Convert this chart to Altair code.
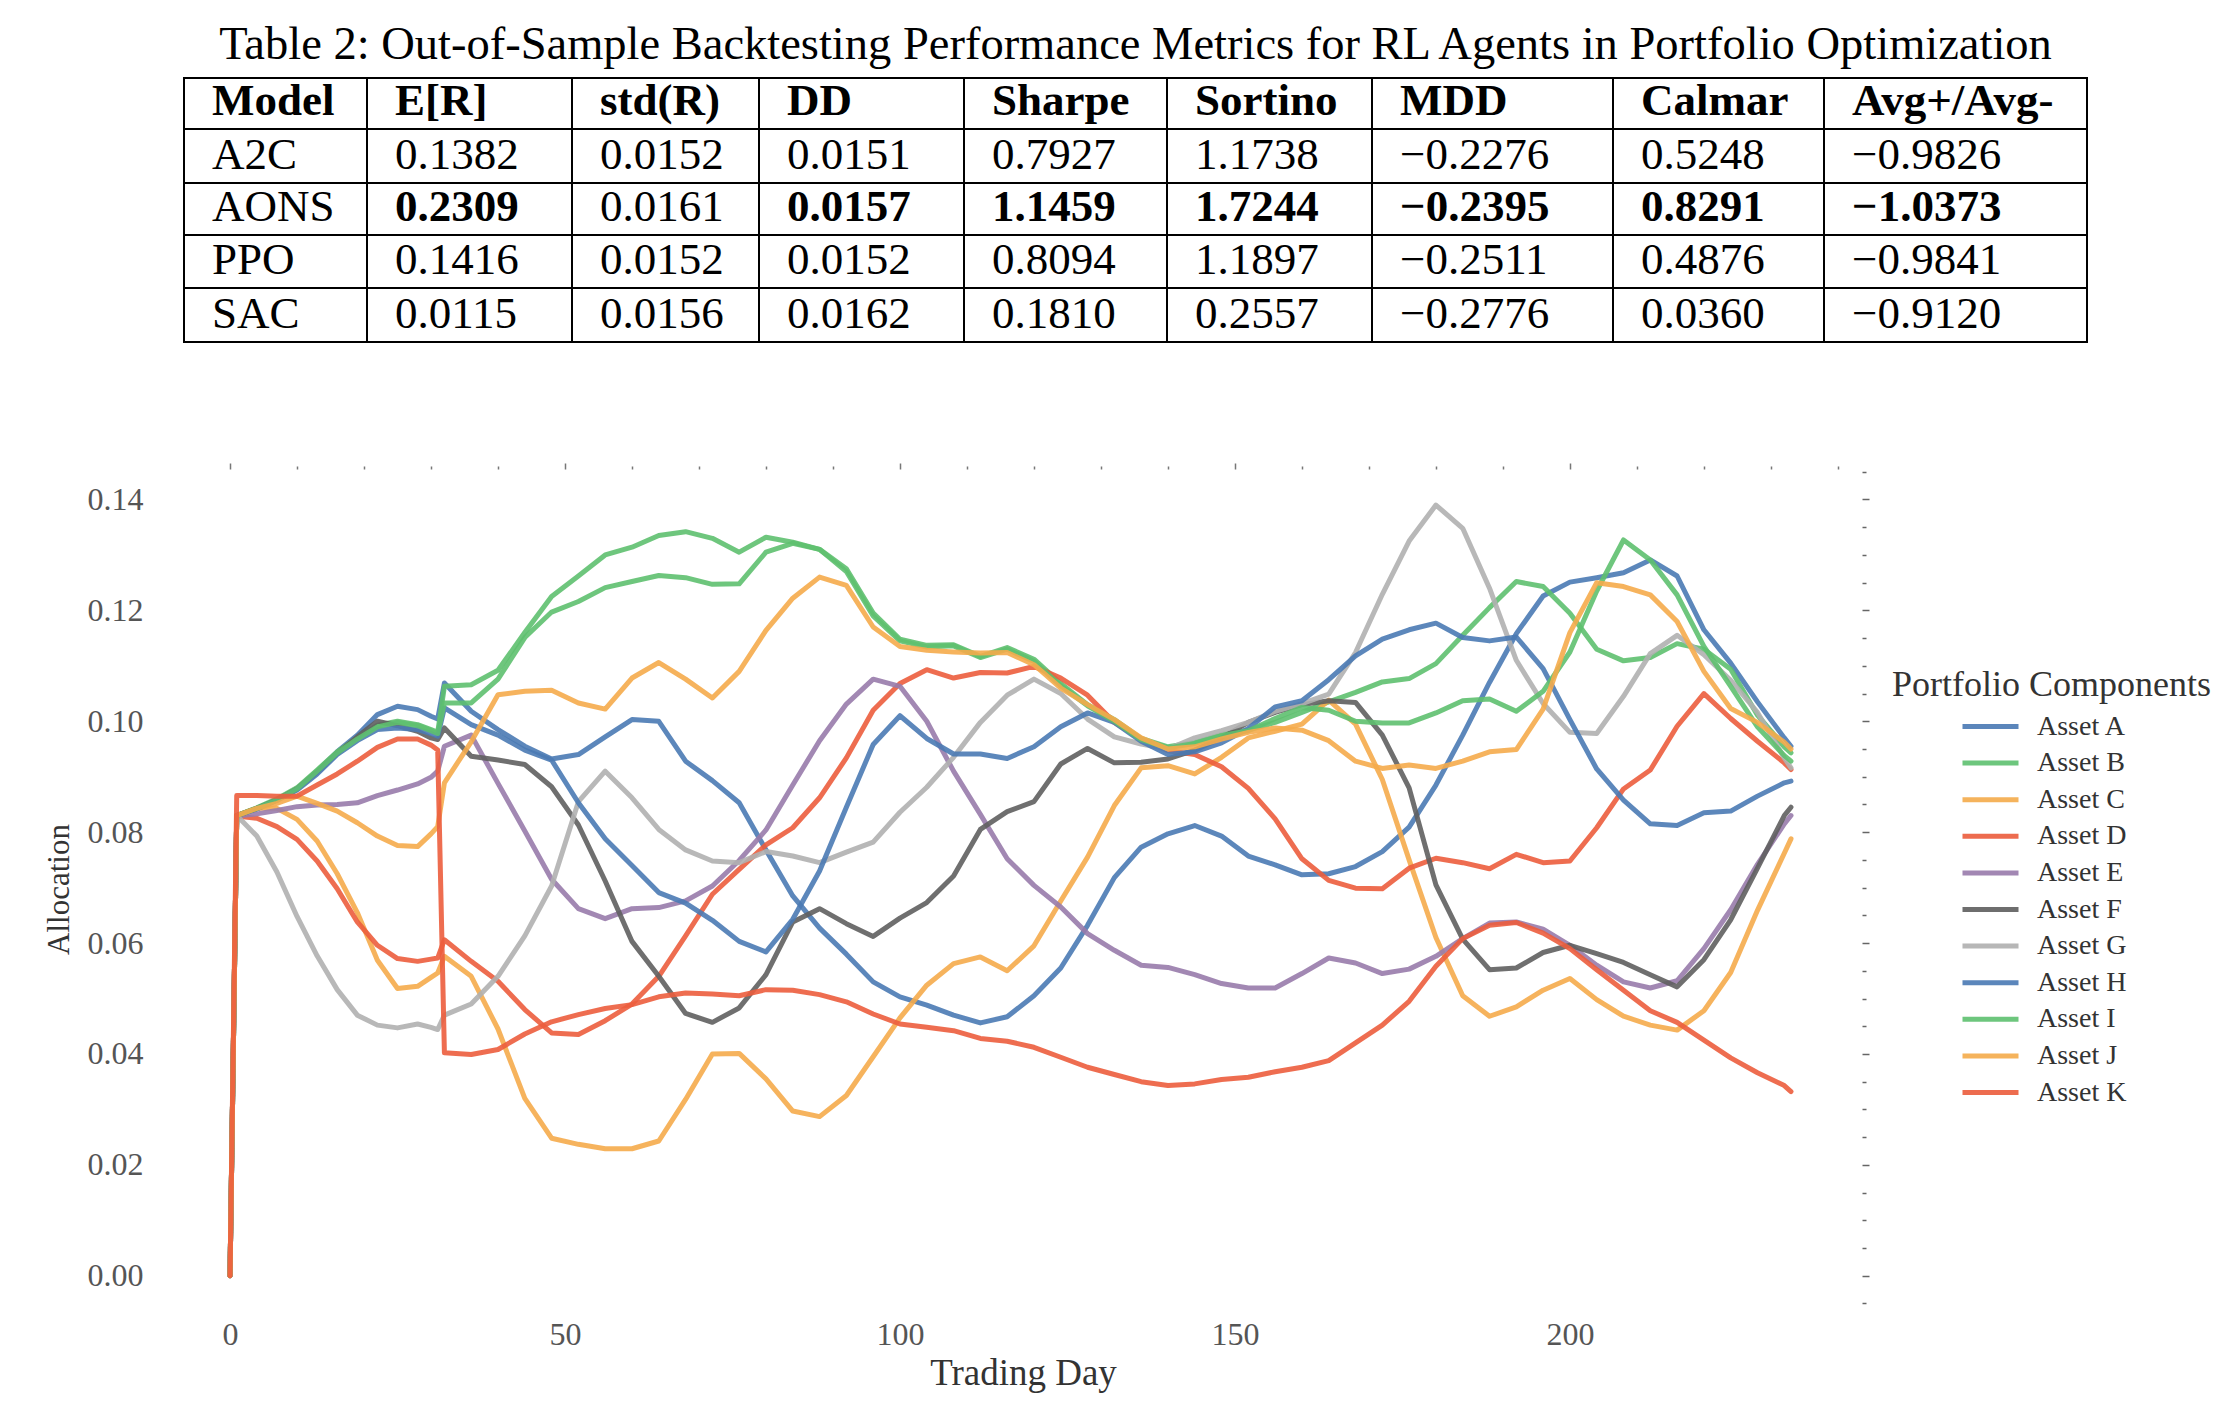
import altair as alt
import pandas as pd

FONT = "Liberation Serif"

# ---------------- table data ----------------
table_title = "Table 2: Out-of-Sample Backtesting Performance Metrics for RL Agents in Portfolio Optimization"
header = ["Model", "E[R]", "std(R)", "DD", "Sharpe", "Sortino", "MDD", "Calmar", "Avg+/Avg-"]
models = ["A2C", "AONS", "PPO", "SAC"]
exp_ret = [0.1382, 0.2309, 0.1416, 0.0115]
std_ret = [0.0152, 0.0161, 0.0152, 0.0156]
dd = [0.0151, 0.0157, 0.0152, 0.0162]
sharpe = [0.7927, 1.1459, 0.8094, 0.1810]
sortino = [1.1738, 1.7244, 1.1897, 0.2557]
mdd = [-0.2276, -0.2395, -0.2511, -0.2776]
calmar = [0.5248, 0.8291, 0.4876, 0.0360]
avg_ratio = [-0.9826, -1.0373, -0.9841, -0.9120]
bold_model = "AONS"
bold_columns = ["E[R]", "DD", "Sharpe", "Sortino", "MDD", "Calmar", "Avg+/Avg-"]

# table layout (pixels)
col_widths = [183, 205, 187, 205, 203, 205, 241, 211, 263]
row_heights = [51, 54, 52, 53, 54]
text_pad_x = 28
text_pad_bottom = 14

# ---------------- line chart data ----------------
days = [0, 1, 4, 7, 10, 13, 16, 19, 22, 25, 28, 30, 31,
        32, 36, 40, 44, 48, 52, 56, 60, 64,
        68, 72, 76, 80, 84, 88, 92, 96, 100,
        104, 108, 112, 116, 120, 124, 128, 132, 136,
        140, 144, 148, 152, 156, 160, 164, 168, 172,
        176, 180, 184, 188, 192, 196, 200, 204, 208,
        212, 216, 220, 224, 228, 232,
        233]

asset_a = [0, .083, .0842, .0858, .0878, .091, .0945, .0975, .1012, .1027, .1021, .1009, .1004,
           .1069, .1018, .0985, .0955, .0932, .094, .0972, .1003, .1,
           .0928, .0893, .0853, .0768, .0685, .0627, .058, .053, .0503,
           .0488, .047, .0456, .0467, .0505, .0555, .0632, .0718, .0773,
           .0797, .0812, .0793, .0757, .0741, .0723, .0725, .0738, .0765,
           .0809, .0885, .0975, .107, .1158, .1226, .1251, .1259, .1268,
           .1291, .1262, .1165, .1105, .1035, .097,
           .0955]
asset_b = [0, .083, .0844, .086, .088, .0912, .0945, .097, .0993, .1, .0994, .0985, .098,
           .1063, .1066, .1092, .116, .1225, .1262, .13, .1314, .1335,
           .1342, .133, .1305, .1332, .1323, .131, .1275, .1195, .1148,
           .1137, .1138, .1117, .1133, .1112, .1068, .103, .1003, .0969,
           .0954, .0962, .0976, .0984, .0998, .1016, .1035, .1052, .1071,
           .1077, .1104, .1155, .1205, .1252, .1243, .1195, .113, .1109,
           .1115, .114, .113, .1094, .1011, .0954,
           .0943]
asset_c = [0, .083, .0843, .0843, .0823, .0784, .0725, .0655, .0569, .0518, .0522, .0538, .0546,
           .0576, .054, .0445, .032, .0248, .0237, .0229, .0229, .0243,
           .0318, .04, .0401, .0355, .0297, .0287, .0325, .0395, .0465,
           .0524, .0563, .0575, .055, .0595, .0676, .0755, .0848, .0916,
           .092, .0905, .0935, .097, .0982, .0995, .1038, .0995, .0895,
           .075, .061, .0505, .0468, .0485, .0515, .0536, .0498, .0468,
           .0452, .0443, .0478, .0547, .0659, .0762,
           .0788]
asset_d = [0, .0829, .0825, .081, .0787, .0748, .0698, .0638, .0596, .0572, .0567, .0571, .0573,
           .0606, .0567, .0531, .048, .0438, .0435, .046, .049, .054,
           .0613, .0688, .0733, .0777, .0808, .0862, .0934, .102, .1068,
           .1093, .1078, .1088, .1087, .1099, .1078, .1047, .0998, .0968,
           .0947, .094, .0918, .0879, .0824, .0752, .0713, .0699, .0698,
           .0735, .0753, .0745, .0734, .076, .0745, .0748, .0808, .0878,
           .0912, .0991, .105, .1005, .0964, .0925,
           .0913]
asset_e = [0, .0829, .0833, .0839, .0846, .0849, .085, .0853, .0866, .0876, .0887, .0899, .091,
           .0955, .0975, .0888, .0802, .0715, .0662, .0644, .0662, .0664,
           .0676, .0703, .0749, .0804, .0885, .0965, .1031, .1076, .1063,
           .1, .091, .0832, .0752, .0704, .0665, .0617, .0587, .056,
           .0556, .0543, .0527, .0519, .0519, .0545, .0573, .0564, .0545,
           .0553, .0576, .0608, .0636, .0638, .0625, .0596, .056, .053,
           .0519, .0532, .059, .066, .0742, .0815,
           .083]
asset_f = [0, .083, .0843, .0858, .0878, .0908, .0942, .0972, .1, .0992, .0982, .097, .0967,
           .0988, .0937, .093, .0922, .0882, .0813, .0712, .0603, .054,
           .0473, .0457, .0483, .0543, .0638, .0662, .0635, .0612, .0645,
           .0673, .0721, .0805, .0837, .0855, .0923, .0951, .0925, .0926,
           .0932, .0948, .097, .0998, .1016, .103, .1037, .1034, .0975,
           .088, .0705, .0607, .0552, .0555, .0583, .0596, .0581, .0565,
           .0543, .0521, .057, .0642, .0735, .083,
           .0845]
asset_g = [0, .083, .0793, .0728, .0648, .0577, .0516, .047, .0452, .0447, .0454, .0448, .0444,
           .047, .049, .054, .0613, .0703, .0855, .091, .0862, .0805,
           .0768, .0748, .0745, .0765, .0757, .0745, .0764, .0782, .0836,
           .0881, .0935, .0998, .1047, .1076, .105, .1004, .0972, .0959,
           .095, .097, .0983, .0998, .1018, .1032, .1049, .1124, .1229,
           .1325, .139, .1348, .124, .111, .1032, .098, .0978, .1045,
           .1122, .1155, .112, .1074, .1016, .0934,
           .0916]
asset_h = [0, .083, .0842, .0857, .0876, .0905, .094, .0965, .0985, .0988, .0985, .0978, .0973,
           .1024, .0994, .0975, .0948, .093, .0853, .0788, .074, .0691,
           .0672, .0641, .0603, .0584, .0643, .073, .0845, .0958, .101,
           .0969, .0941, .0941, .0933, .0954, .099, .1015, .0998, .0964,
           .094, .0945, .0961, .0987, .1026, .1037, .1075, .1118, .1148,
           .1165, .1177, .1151, .1145, .1152, .1095, .1003, .0914, .0858,
           .0815, .0812, .0835, .0838, .0865, .0889,
           .0892]
asset_i = [0, .083, .0843, .0858, .0878, .091, .0943, .0968, .099, .0998, .0992, .0983, .0978,
           .1033, .1033, .1076, .1151, .1197, .1216, .1241, .1252, .1263,
           .1259, .1247, .1248, .1305, .1321, .131, .127, .119, .1145,
           .1134, .1136, .1115, .113, .1108, .1064, .1028, .1, .0967,
           .0952, .096, .0974, .0983, .1005, .1025, .102, .1, .0997,
           .0997, .1015, .1037, .104, .1018, .1054, .1125, .1235, .1327,
           .1291, .1228, .1135, .1063, .099, .0938,
           .0928]
asset_j = [0, .083, .0843, .0852, .0865, .0852, .0838, .0817, .0793, .0776, .0774, .0797, .081,
           .0889, .0963, .1048, .1054, .1056, .1033, .1022, .1078, .1106,
           .1076, .1042, .109, .1164, .1222, .126, .1245, .117, .1135,
           .1128, .1125, .1123, .1124, .1102, .106, .103, .1003, .097,
           .095, .0954, .0968, .098, .0988, .0984, .0965, .0928, .0915,
           .0921, .0915, .0928, .0945, .0949, .1022, .116, .125, .1243,
           .1228, .118, .109, .1023, .0998, .0962,
           .095]
asset_k = [0, .0866, .0866, .0865, .0865, .0885, .0905, .0928, .0953, .0968, .0968, .0957, .0948,
           .0402, .0399, .0408, .0436, .0458, .0471, .0482, .0489, .0503,
           .051, .0508, .0505, .0516, .0515, .0507, .0494, .0472, .0454,
           .0448, .0442, .0428, .0423, .0412, .0394, .0376, .0363, .035,
           .0343, .0346, .0354, .0358, .0368, .0376, .0388, .042, .0452,
           .0495, .0558, .0608, .0632, .0637, .0618, .059, .0552, .0515,
           .0478, .0457, .0425, .0393, .0366, .0343,
           .0332]

asset_names = ["Asset A", "Asset B", "Asset C", "Asset D", "Asset E", "Asset F",
               "Asset G", "Asset H", "Asset I", "Asset J", "Asset K"]
asset_series = [asset_a, asset_b, asset_c, asset_d, asset_e, asset_f,
                asset_g, asset_h, asset_i, asset_j, asset_k]
asset_colors = ["#4a7ab4", "#5ec06f", "#f5ab4b", "#ec5d3d", "#987bab", "#5f5f5f",
                "#b0b0b0", "#4a7ab4", "#5ec06f", "#f5ab4b", "#ec5d3d"]

x_label_values = [0, 50, 100, 150, 200]
y_label_values = [0.0, 0.02, 0.04, 0.06, 0.08, 0.10, 0.12, 0.14]
top_tick_days = [-10, 0, 10, 20, 30, 40, 50, 60, 70, 80, 90, 100, 110, 120, 130, 140,
                 150, 160, 170, 180, 190, 200, 210, 220, 230, 240]
right_tick_values = [-0.005, 0.0, 0.005, 0.01, 0.015, 0.02, 0.025, 0.03, 0.035, 0.04,
                     0.045, 0.05, 0.055, 0.06, 0.065, 0.07, 0.075, 0.08, 0.085, 0.09,
                     0.095, 0.10, 0.105, 0.11, 0.115, 0.12, 0.125, 0.13, 0.135, 0.14, 0.145]

# ---------------- build table frames ----------------
col_left = [sum(col_widths[:i]) for i in range(len(col_widths))]
row_top = [sum(row_heights[:i]) for i in range(len(row_heights))]
table_w = sum(col_widths)
table_h = sum(row_heights)

columns = [exp_ret, std_ret, dd, sharpe, sortino, mdd, calmar, avg_ratio]

cell_rows, text_rows = [], []
for r in range(len(row_heights)):
    for c in range(len(col_widths)):
        cell_rows.append({"x0": col_left[c], "x1": col_left[c] + col_widths[c],
                          "y0": row_top[r], "y1": row_top[r] + row_heights[r]})
        if r == 0:
            label, bold = header[c], True
        elif c == 0:
            label, bold = models[r - 1], False
        else:
            v = columns[c - 1][r - 1]
            label = f"{v:.4f}".replace("-", "\u2212")
            bold = (models[r - 1] == bold_model) and (header[c] in bold_columns)
        text_rows.append({"xt": col_left[c] + text_pad_x,
                          "yt": row_top[r] + row_heights[r] - text_pad_bottom,
                          "label": label, "bold": bold})
cells_df = pd.DataFrame(cell_rows)
texts_df = pd.DataFrame(text_rows)

tx_scale = alt.Scale(domain=[0, table_w], nice=False, zero=False)
ty_scale = alt.Scale(domain=[0, table_h], nice=False, zero=False, reverse=True)

rects = alt.Chart(cells_df).mark_rect(fillOpacity=0, stroke="black", strokeWidth=2).encode(
    x=alt.X("x0:Q", scale=tx_scale, axis=None),
    x2="x1:Q",
    y=alt.Y("y0:Q", scale=ty_scale, axis=None),
    y2="y1:Q",
)
txt_normal = alt.Chart(texts_df).transform_filter("!datum.bold").mark_text(
    font=FONT, fontSize=45, align="left", baseline="alphabetic", color="black"
).encode(
    x=alt.X("xt:Q", scale=tx_scale, axis=None),
    y=alt.Y("yt:Q", scale=ty_scale, axis=None),
    text="label:N",
)
txt_bold = alt.Chart(texts_df).transform_filter("datum.bold").mark_text(
    font=FONT, fontSize=45, fontWeight="bold", align="left", baseline="alphabetic", color="black"
).encode(
    x=alt.X("xt:Q", scale=tx_scale, axis=None),
    y=alt.Y("yt:Q", scale=ty_scale, axis=None),
    text="label:N",
)
table_chart = alt.layer(rects, txt_normal, txt_bold).properties(
    width=table_w, height=table_h,
    title=alt.Title(table_title, font=FONT, fontSize=46.5, fontWeight="normal", color="black",
                    anchor="middle", baseline="alphabetic", offset=10, dy=38),
)

# ---------------- line chart ----------------
rows = []
for name, vals in zip(asset_names, asset_series):
    assert len(vals) == len(days), name
    for d, v in zip(days, vals):
        rows.append({"asset": name, "day": d, "alloc": v})
df = pd.DataFrame(rows)

plot_w = 1678
plot_h = 840
x_scale = alt.Scale(domain=[-6.87, 243.6], nice=False, zero=False)
y_scale = alt.Scale(domain=[-0.006, 0.1455], nice=False, zero=False)

lines = alt.Chart(df).mark_line(strokeWidth=5, opacity=0.9, strokeJoin="round", strokeCap="round").encode(
    x=alt.X("day:Q", scale=x_scale,
            axis=alt.Axis(orient="bottom", values=x_label_values, ticks=False, domain=False, grid=False,
                          labelFont=FONT, labelFontSize=32, labelColor="#555555", labelPadding=10,
                          title="Trading Day", titleFont=FONT, titleFontSize=37, titleFontWeight="normal",
                          titleColor="#333333", titlePadding=5)),
    y=alt.Y("alloc:Q", scale=y_scale,
            axis=alt.Axis(orient="left", values=y_label_values, format=".2f", ticks=False, domain=False,
                          grid=False, labelFont=FONT, labelFontSize=32, labelColor="#555555",
                          labelPadding=41, title="Allocation", titleFont=FONT, titleFontSize=31,
                          titleFontWeight="normal", titleColor="#333333", titlePadding=12)),
    color=alt.Color("asset:N", scale=alt.Scale(domain=asset_names, range=asset_colors),
                    legend=alt.Legend(title="Portfolio Components", orient="none", legendX=1708, legendY=590,
                                      padding=0, titleFont=FONT, titleFontSize=36, titleFontWeight="normal",
                                      titleColor="#333333", titlePadding=6, titleLimit=600,
                                      labelFont=FONT, labelFontSize=28, labelLimit=400,
                                      labelColor="#333333", symbolType="M-2,0L2,0", symbolSize=784,
                                      symbolStrokeWidth=5, symbolOffset=82, labelOffset=30, rowPadding=5.6)),
)

frame = alt.Chart(df).mark_line(opacity=0).encode(
    x=alt.X("day:Q", scale=x_scale,
            axis=alt.Axis(orient="top", values=top_tick_days, labels=False, domain=False, grid=False,
                          title="", tickColor="#777777", tickWidth=1.5,
                          tickSize={"condition": {"test": "datum.value % 50 === 0", "value": 6}, "value": 3})),
    y=alt.Y("alloc:Q", scale=y_scale,
            axis=alt.Axis(orient="right", values=right_tick_values, labels=False, domain=False, grid=False,
                          title="", tickColor="#666666", tickWidth=1.5,
                          tickSize={"condition": {"test": "round(datum.value*200) % 4 === 0", "value": 7},
                                    "value": 4})),
    detail="asset:N",
)

line_chart = alt.layer(lines, frame).resolve_axis(x="independent", y="independent").properties(
    width=plot_w, height=plot_h
)

chart = alt.vconcat(table_chart, line_chart, spacing=119).properties(
    padding={"left": 35, "top": 13, "right": 5, "bottom": 5},
    background="white",
).configure_view(strokeWidth=0)

chart.save("out.html", embed_options={"renderer": "svg", "actions": False})
